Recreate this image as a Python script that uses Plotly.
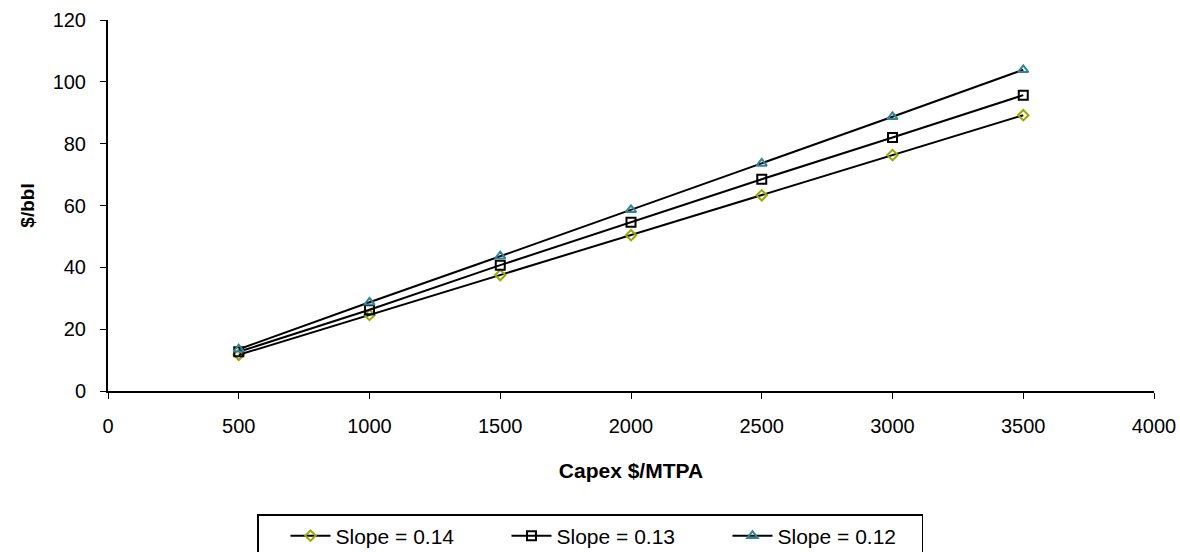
import plotly.graph_objects as go

capex = [500, 1000, 1500, 2000, 2500, 3000, 3500]
slope_014 = [11.7, 24.6, 37.5, 50.4, 63.3, 76.3, 89.2]
slope_013 = [12.7, 26.3, 40.7, 54.6, 68.5, 82.0, 95.7]
slope_012 = [13.5, 28.7, 43.6, 58.6, 73.6, 88.7, 103.9]
names = ["Slope = 0.14", "Slope = 0.13", "Slope = 0.12"]

series = [
    (slope_014, "diamond-open", "#99A800", 8),
    (slope_013, "square-open", "#000000", 9),
    (slope_012, "triangle-up-open", "#31849B", 9),
]

fig = go.Figure()
for (vals, sym, col, sz), nm in zip(series, names):
    fig.add_trace(go.Scatter(
        x=capex, y=vals, name=nm, mode="lines+markers",
        line=dict(color="black", width=2),
        marker=dict(symbol=sym, size=sz, color=col, line=dict(width=2, color=col)),
    ))

font = "Liberation Sans, Arial, sans-serif"
fig.update_layout(
    width=1180, height=552,
    margin=dict(l=108, r=26, t=20, b=161, autoexpand=False),
    paper_bgcolor="white", plot_bgcolor="white",
    font=dict(family=font, size=20, color="black"),
    showlegend=True,
    legend=dict(orientation="h", xref="container", x=590 / 1180, xanchor="center",
                yref="container", y=(552 - 514) / 552, yanchor="top",
                bordercolor="black", borderwidth=1.5, font=dict(size=21),
                itemwidth=40, entrywidth=139, entrywidthmode="pixels",
                indentation=27, tracegroupgap=0),
    xaxis=dict(range=[0, 4000], tickvals=[0, 500, 1000, 1500, 2000, 2500, 3000, 3500, 4000],
               tickfont=dict(size=20), ticklabelstandoff=10,
               showgrid=False, zeroline=False, showline=True, linecolor="black", linewidth=2,
               ticks="outside", ticklen=6, tickwidth=1, tickcolor="black",
               title=dict(text="<b>Capex $/MTPA</b>", font=dict(size=21), standoff=27)),
    yaxis=dict(range=[0, 120], tickvals=[0, 20, 40, 60, 80, 100, 120],
               tickfont=dict(size=20), ticklabelstandoff=10,
               showgrid=False, zeroline=False, showline=True, linecolor="black", linewidth=2,
               ticks="outside", ticklen=6, tickwidth=1, tickcolor="black",
               title=dict(text="<b>$/bbl</b>", font=dict(size=19), standoff=13)),
)

fig.write_html("out.html")
